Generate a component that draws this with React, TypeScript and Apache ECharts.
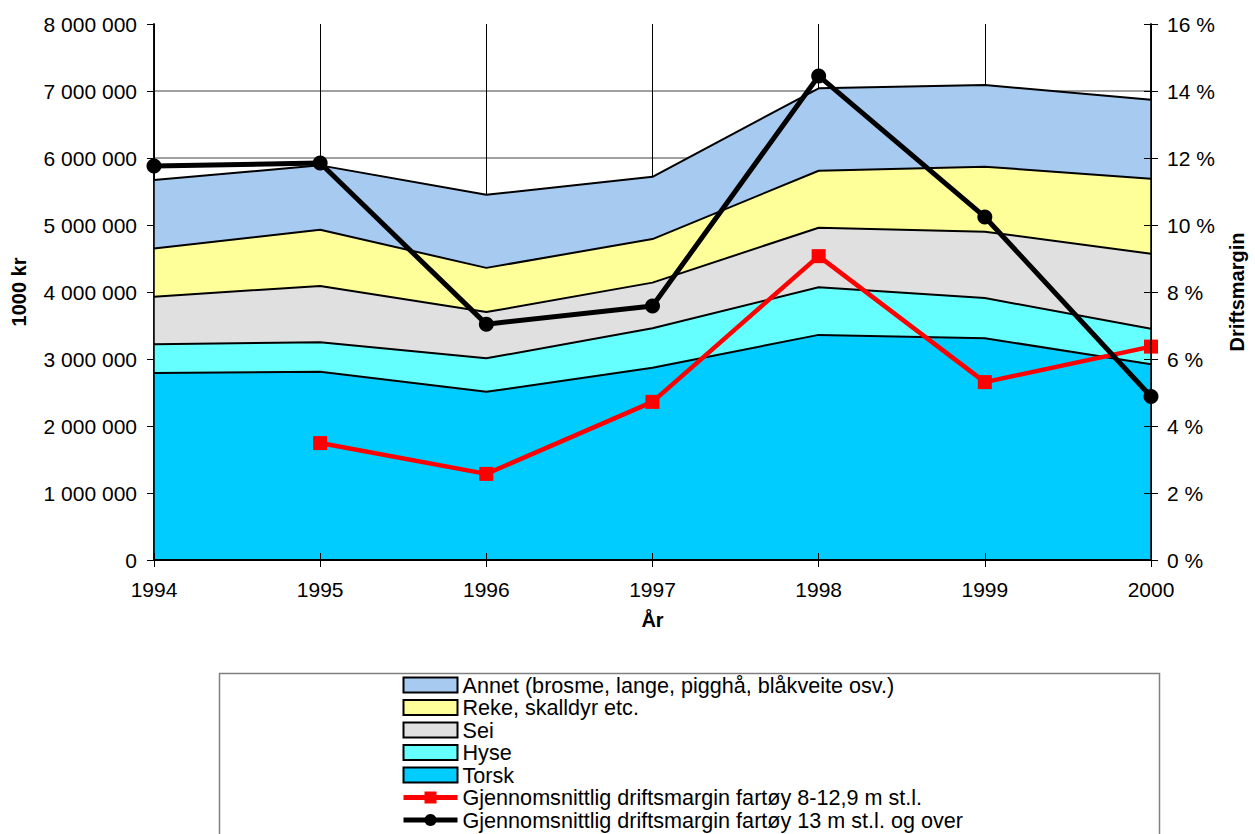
import React, { useEffect, useRef } from "react";
import * as echarts from "echarts";

const years = ["1994", "1995", "1996", "1997", "1998", "1999", "2000"];
const torsk = [2790000, 2810000, 2510000, 2870000, 3360000, 3310000, 2920000];
const hyse = [430000, 440000, 500000, 590000, 710000, 600000, 530000];
const sei = [710000, 840000, 690000, 680000, 890000, 990000, 1120000];
const reke = [720000, 840000, 660000, 650000, 850000, 970000, 1120000];
const annet = [1020000, 960000, 1090000, 930000, 1230000, 1220000, 1180000];
const margin8 = [null, 3.49, 2.57, 4.72, 9.07, 5.31, 6.37];
const margin13 = [11.76, 11.85, 7.04, 7.58, 14.45, 10.24, 4.88];

const names = {
  annet: "Annet (brosme, lange, pigghå, blåkveite osv.)",
  reke: "Reke, skalldyr etc.",
  sei: "Sei",
  hyse: "Hyse",
  torsk: "Torsk",
  m8: "Gjennomsnittlig driftsmargin fartøy 8-12,9 m st.l.",
  m13: "Gjennomsnittlig driftsmargin fartøy 13 m st.l. og over",
};

const colors = {
  annet: "#A6CAF0",
  reke: "#FFFF99",
  sei: "#E0E0E0",
  hyse: "#66FFFF",
  torsk: "#00CCFF",
};

const FONT = "'Liberation Sans', Arial, sans-serif";

function fmtThousands(v: number) {
  return String(v).replace(/\B(?=(\d{3})+(?!\d))/g, " ");
}

export default function App() {
  const ref = useRef<HTMLDivElement>(null);
  useEffect(() => {
    if (!ref.current) return;
    const chart = echarts.init(ref.current, undefined, { renderer: "svg" });
    const area = (key: keyof typeof colors, data: number[]) => ({
      name: names[key],
      type: "line",
      stack: "total",
      data,
      symbol: "none",
      xAxisIndex: 0,
      yAxisIndex: 0,
      lineStyle: { color: "#000", width: 2 },
      itemStyle: { color: colors[key] },
      areaStyle: { color: colors[key], opacity: 1 },
      z: 2,
    });
    const legendArea = (key: keyof typeof colors) => ({
      name: names[key],
      icon: "rect",
      itemStyle: { color: colors[key], borderColor: "#000", borderWidth: 2 },
    });
    const tickLabel = { fontSize: 21, color: "#000", fontFamily: FONT };
    const nameStyle = { fontSize: 20, fontWeight: "bold", color: "#000", fontFamily: FONT };
    chart.setOption({
      animation: false,
      textStyle: { fontFamily: FONT, color: "#000" },
      grid: { left: 154, right: 98, top: 24, bottom: 274 },
      xAxis: [
        {
          type: "category",
          data: years,
          boundaryGap: false,
          position: "bottom",
          name: "År",
          nameLocation: "middle",
          nameGap: 50,
          nameTextStyle: nameStyle,
          axisLine: { lineStyle: { color: "#000", width: 2 } },
          axisTick: { show: true, length: 7, lineStyle: { color: "#000", width: 1 } },
          axisLabel: { ...tickLabel, margin: 19 },
          splitLine: { show: true, lineStyle: { color: "#000", width: 1 } },
          z: 0,
        },
        {
          type: "category",
          data: years,
          boundaryGap: false,
          position: "bottom",
          axisLine: { show: true, lineStyle: { color: "#000", width: 2 } },
          axisTick: { show: true, inside: true, length: 7, lineStyle: { color: "#000", width: 1 } },
          axisLabel: { show: false },
          splitLine: { show: false },
          z: 10,
        },
      ],
      yAxis: [
        {
          type: "value",
          position: "left",
          min: 0,
          max: 8000000,
          interval: 1000000,
          name: "1000 kr",
          nameLocation: "middle",
          nameRotate: 90,
          nameGap: 125,
          nameTextStyle: nameStyle,
          axisLine: { show: true, lineStyle: { color: "#000", width: 1.5 } },
          axisTick: { show: true, length: 7, lineStyle: { color: "#000", width: 1 } },
          axisLabel: { ...tickLabel, margin: 17, formatter: (v: number) => fmtThousands(v) },
          splitLine: { show: true, showMaxLine: false, lineStyle: { color: "#808080", width: 1.5 } },
          z: 0,
        },
        {
          type: "value",
          position: "right",
          min: 0,
          max: 16,
          interval: 2,
          name: "Driftsmargin",
          nameLocation: "middle",
          nameRotate: 90,
          nameGap: 76,
          nameTextStyle: nameStyle,
          axisLine: { show: true, lineStyle: { color: "#000", width: 1.5 } },
          axisTick: { show: true, length: 7, lineStyle: { color: "#000", width: 1 } },
          axisLabel: { ...tickLabel, margin: 16, formatter: "{value} %" },
          splitLine: { show: false },
          z: 0,
        },
        {
          type: "value",
          position: "right",
          min: 0,
          max: 16,
          interval: 2,
          axisLine: { show: true, lineStyle: { color: "#000", width: 1.5 } },
          axisTick: { show: true, inside: true, length: 7, lineStyle: { color: "#000", width: 1 } },
          axisLabel: { show: false },
          splitLine: { show: false },
          z: 10,
        },
        {
          type: "value",
          position: "left",
          min: 0,
          max: 8000000,
          interval: 1000000,
          axisLine: { show: true, lineStyle: { color: "#000", width: 1.5 } },
          axisTick: { show: false },
          axisLabel: { show: false },
          splitLine: { show: false },
          z: 10,
        },
      ],
      legend: {
        orient: "vertical",
        left: 401,
        top: 674,
        itemWidth: 54,
        itemHeight: 15,
        itemGap: 0.5,
        padding: 0,
        selectedMode: false,
        textStyle: { fontSize: 21.6, lineHeight: 22, color: "#000", fontFamily: FONT },
        data: [
          legendArea("annet"),
          legendArea("reke"),
          legendArea("sei"),
          legendArea("hyse"),
          legendArea("torsk"),
          { name: names.m8, lineStyle: { width: 5 } },
          { name: names.m13, lineStyle: { width: 5 } },
        ],
      },
      graphic: [
        {
          type: "rect",
          left: 217,
          top: 671,
          shape: { width: 940, height: 200 },
          style: { fill: "none", stroke: "#808080", lineWidth: 1.5 },
          z: 0,
        },
      ],
      series: [
        area("torsk", torsk),
        area("hyse", hyse),
        area("sei", sei),
        area("reke", reke),
        area("annet", annet),
        {
          name: names.m8,
          type: "line",
          yAxisIndex: 1,
          data: margin8,
          symbol: "rect",
          symbolSize: 14,
          lineStyle: { color: "#FF0000", width: 4.5 },
          itemStyle: { color: "#FF0000" },
          z: 6,
        },
        {
          name: names.m13,
          type: "line",
          yAxisIndex: 1,
          data: margin13,
          symbol: "circle",
          symbolSize: 15,
          lineStyle: { color: "#000", width: 5 },
          itemStyle: { color: "#000" },
          z: 7,
        },
      ],
    });
    return () => chart.dispose();
  }, []);
  return (
    <div
      ref={ref}
      style={{ position: "fixed", left: 0, top: 0, width: 1255, height: 834, background: "#fff" }}
    />
  );
}
